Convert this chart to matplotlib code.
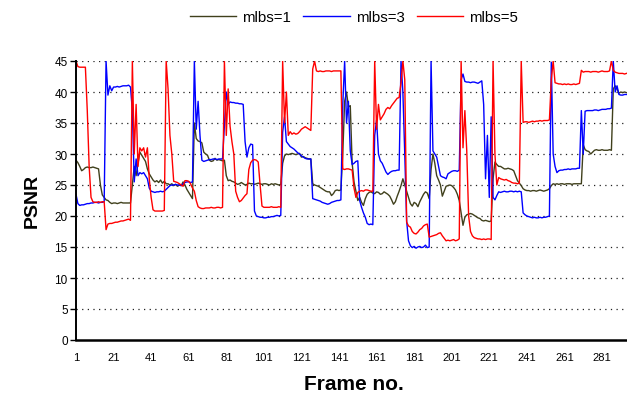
import matplotlib
matplotlib.use("Agg")
import matplotlib.pyplot as plt
import numpy as np

plt.rcParams['font.family'] = ['Liberation Sans', 'DejaVu Sans']

# PSNR per frame (frames 1..294)
mlbs1 = [29.0, 28.6, 28.0, 27.3, 27.5,
         27.8, 27.9, 27.8, 27.8, 27.9, 27.8, 27.7, 27.6,
         25.0, 23.4, 23.0, 22.6, 22.5,
         22.2, 22.0, 22.1, 22.1, 22.0, 22.1, 22.2, 22.1, 22.1, 22.1, 22.1, 22.1,
         25.0, 28.0, 26.5, 28.5, 30.3, 29.8, 29.3, 28.8, 27.6, 26.8, 26.3, 25.8, 25.5,
         25.7, 25.4, 25.8, 25.3, 25.6, 25.2,
         25.2, 25.0, 25.2, 24.9, 25.1, 24.8, 25.0, 24.9,
         25.5, 25.0, 24.3, 23.8, 23.3, 22.8,
         35.0, 32.5, 32.1, 32.0, 31.8, 30.3, 30.0, 29.8, 29.0, 28.8, 28.9, 29.3, 29.0, 29.1, 29.0, 28.9, 29.0,
         26.5, 25.7, 25.8, 25.6, 25.5,
         25.3, 25.1, 25.2, 25.4, 25.2, 25.0, 25.1, 25.3, 25.2, 25.2, 25.1, 25.2, 25.3,
         25.2, 25.1, 25.2, 25.2, 25.1, 25.0, 25.2, 25.1, 25.2, 25.1, 25.0, 25.1,
         28.5, 29.7,
         30.0, 29.9, 30.0, 30.1, 30.0, 29.9, 30.0, 30.1,
         29.5, 29.6, 29.4, 29.3, 29.2, 29.2,
         25.2, 25.0, 24.9, 24.8, 24.6,
         24.4, 24.2, 24.0, 23.9, 23.9,
         23.3, 23.6, 24.1, 24.2, 24.1, 24.2,
         30.0, 38.5, 40.0, 37.6, 37.8, 28.5, 25.5, 24.0, 22.5, 23.0, 22.2, 21.7, 22.8,
         23.5, 23.8, 23.9, 23.7, 23.6, 23.9, 23.8, 23.5, 23.6, 23.9, 23.7, 23.5, 23.2, 22.6, 21.9,
         22.3, 23.2, 24.0, 24.9, 26.0, 25.0,
         24.0, 23.0, 22.0, 21.6,
         22.2, 22.0, 21.5, 22.3, 22.9,
         23.5, 23.9, 23.7, 22.8,
         27.5, 30.0, 28.5, 26.5, 25.8, 25.0, 23.2, 24.0, 24.8,
         24.9, 25.0, 24.9, 24.6, 24.2,
         23.5, 22.5,
         20.5, 18.5, 19.8,
         20.2, 20.3, 20.4, 20.3, 20.1,
         19.9, 19.7, 19.6,
         19.3, 19.2, 19.3, 19.2, 19.1, 19.2,
         26.0, 28.7, 28.3, 28.0, 28.0, 27.8,
         27.6, 27.6, 27.7, 27.6, 27.5, 27.3,
         26.5, 25.7, 25.3, 24.9,
         24.4, 24.2, 24.1, 24.1, 24.0, 24.1, 24.1, 24.0, 24.1, 24.2, 24.1, 24.0, 24.1, 24.2, 24.4,
         24.9, 25.2, 25.1, 25.2, 25.1, 25.2, 25.2, 25.1, 25.2, 25.2, 25.2, 25.1, 25.2, 25.2, 25.2, 25.2, 25.2,
         31.5,
         30.7, 30.5, 30.4, 30.0, 30.3, 30.6, 30.7, 30.6, 30.6, 30.7, 30.6, 30.6, 30.6, 30.7, 30.6,
         40.5, 41.0, 40.5,
         39.8, 40.0, 39.9, 40.0, 39.9]

mlbs3 = [23.5, 22.0,
         21.7, 21.8, 21.8, 21.9, 22.0, 22.0, 22.1, 22.1, 22.2, 22.2, 22.1, 22.2, 22.2, 22.3,
         45.0, 39.5, 41.0, 40.2,
         40.8, 40.8, 40.9, 40.8, 40.9, 41.0, 41.0, 41.0, 41.1,
         40.8, 37.0, 25.5, 29.2, 26.5, 27.0, 26.8, 27.0, 26.5, 26.0, 24.5, 24.0,
         23.9, 23.8, 23.9, 23.9, 24.0, 23.9, 24.0,
         24.3, 24.6, 24.9,
         25.0, 25.0, 25.1, 25.0, 25.0, 24.9, 25.2, 25.4, 25.5, 25.5, 25.4, 25.5,
         45.0, 34.0, 38.5, 33.0, 29.0,
         28.8, 28.9, 29.0, 29.1, 29.1, 29.2, 29.2, 29.1, 29.2, 29.2, 29.2,
         34.5, 40.0, 38.0,
         38.4, 38.3, 38.3, 38.2, 38.2, 38.1, 38.1, 38.0,
         32.0, 29.5, 31.0, 31.6, 31.5,
         20.8,
         20.0, 19.9, 19.8, 19.8, 19.7, 19.7, 19.8, 19.8, 19.9, 19.9, 20.0, 20.1, 20.0, 20.1,
         33.5, 36.0, 32.0,
         31.6, 31.2, 31.0, 30.8, 30.5, 30.2, 30.0, 29.7, 29.5, 29.3, 29.2, 29.2, 29.2,
         22.8,
         22.7, 22.6, 22.5, 22.4, 22.2, 22.1, 22.0, 21.9, 22.0, 22.2, 22.3, 22.4, 22.5, 22.5, 22.6,
         38.0, 45.0, 35.0, 38.5, 30.5, 28.3,
         28.5, 28.8, 28.9,
         22.5, 21.4, 20.5, 19.8,
         18.8, 18.6, 18.7, 18.6,
         33.0, 35.5, 30.0,
         28.9, 28.5, 27.8, 27.1,
         26.7, 27.0, 27.2, 27.3, 27.3, 27.4, 27.4,
         45.0, 40.0, 30.0, 19.2, 16.0, 15.2,
         14.9, 15.1, 14.8, 15.0, 15.1, 14.9, 15.0, 15.3, 14.9, 15.0,
         45.0, 30.5, 30.0, 29.5, 28.0,
         26.5, 26.3, 26.2, 26.0,
         26.8,
         27.0, 27.2, 27.3, 27.3, 27.2, 27.4,
         42.0, 42.9,
         41.7, 41.6, 41.6, 41.5, 41.6, 41.6, 41.5, 41.4, 41.6, 41.8,
         38.0, 26.0, 33.0, 23.0, 36.0, 23.0, 22.6, 23.3,
         23.9, 23.8, 23.9, 24.0, 23.9, 23.9, 24.0, 24.0, 23.9, 24.0, 23.9, 24.0, 23.9,
         20.5,
         20.2, 20.0, 19.9, 19.8, 19.7, 19.8, 19.7, 19.7, 19.8, 19.7, 19.8, 19.8, 19.9, 20.0,
         44.8, 30.0, 28.0, 27.0,
         27.3, 27.4, 27.4, 27.5, 27.5, 27.6, 27.5, 27.6, 27.6, 27.6, 27.7, 27.7,
         37.0, 30.0,
         36.9, 37.0, 37.0, 37.0, 37.0, 37.1, 37.1, 37.0, 37.1, 37.2, 37.2, 37.2, 37.3, 37.3, 37.4,
         45.0, 40.0, 41.0,
         39.6, 39.5, 39.5, 39.6, 39.6]

mlbs5 = [45.0, 44.1, 44.0, 44.0, 44.0, 44.0,
         37.0, 28.0, 23.0,
         22.3, 22.2, 22.2, 22.3, 22.2, 22.3, 22.3,
         17.8,
         18.7, 18.8, 18.8, 18.9, 19.0, 19.0, 19.1, 19.2, 19.2, 19.3, 19.4, 19.5, 19.3,
         45.0, 30.0, 38.0, 28.0, 31.0, 30.5, 31.0, 29.5, 31.0, 26.0, 23.0,
         21.0, 20.8, 20.8, 20.8, 20.8, 20.8, 20.9,
         45.0, 40.5, 33.0, 30.0,
         25.6, 25.5, 25.4, 25.2, 25.0, 24.8,
         25.7, 25.7, 25.6, 25.2, 24.5,
         24.0, 22.5, 21.5,
         21.3, 21.2, 21.2, 21.3, 21.3, 21.3, 21.4, 21.3, 21.3, 21.4, 21.4, 21.3, 21.4,
         45.0, 33.0, 40.5, 34.5, 32.0, 30.0,
         24.0, 23.0,
         22.3, 22.5, 22.9, 23.3, 23.6,
         27.5, 28.6, 29.0, 29.1, 29.0, 28.7,
         25.0, 21.6,
         21.4, 21.4, 21.4, 21.4, 21.5, 21.4, 21.4, 21.4, 21.5, 21.4,
         45.0, 35.0, 40.0, 33.0,
         33.6, 33.2, 33.4, 33.2, 33.3, 33.6, 34.0, 34.2, 34.4, 34.2, 34.0, 33.8,
         43.7, 45.0,
         43.4, 43.3, 43.4, 43.3, 43.3, 43.4, 43.4, 43.4, 43.3, 43.4, 43.4, 43.4, 43.4, 43.4,
         27.6, 27.5, 27.6, 27.6, 27.5, 27.4,
         24.5, 23.0,
         23.8, 24.0, 24.1, 24.0, 24.2, 24.2, 24.1, 24.0, 24.0,
         45.0, 34.0, 38.0, 35.5,
         36.0, 36.5, 37.2, 37.5, 37.3, 37.8, 38.2, 38.6, 39.0, 39.1,
         41.5, 45.0, 42.0,
         19.0, 18.4, 18.2, 17.5, 17.2, 17.1,
         17.4, 17.8, 18.0, 18.4, 18.6, 18.7,
         16.6, 16.7, 16.8, 16.9, 17.0, 17.2, 17.3, 16.8, 16.4,
         16.0, 16.1, 16.0, 16.1, 16.2, 16.0, 16.1, 16.3,
         45.0, 31.0, 37.0, 30.5, 20.0, 17.5,
         16.8, 16.5, 16.4, 16.3, 16.3, 16.2, 16.3, 16.2, 16.3, 16.3, 16.2,
         45.0, 30.0, 25.0,
         26.2, 26.0, 25.9, 25.8, 25.9, 25.7, 25.6, 25.4, 25.3, 25.3, 25.2, 25.3,
         45.0,
         35.1, 35.2, 35.2, 35.1, 35.2, 35.3, 35.2, 35.3, 35.3, 35.4, 35.3, 35.4, 35.4, 35.4, 35.5,
         42.0, 45.0, 41.5,
         41.4, 41.3, 41.3, 41.2, 41.3, 41.2, 41.3, 41.2, 41.2, 41.3, 41.2, 41.3, 41.4,
         43.5,
         43.2, 43.3, 43.3, 43.3, 43.2, 43.3, 43.3, 43.3, 43.2, 43.3, 43.4, 43.3, 43.3, 43.3, 43.4,
         45.0,
         43.5, 43.2, 43.1, 43.0, 43.0, 43.0, 42.9, 43.0]

series = [("mlbs=1", mlbs1, "#40401c"),
          ("mlbs=3", mlbs3, "#0000ff"),
          ("mlbs=5", mlbs5, "#ff0000")]
xtick_frames = list(range(1, 282, 20))
ytick_vals = list(range(0, 46, 5))

fig = plt.figure(figsize=(6.27, 4.06), dpi=100)
ax = fig.add_axes([76 / 627, 65 / 406, 1 - 76 / 627, 279 / 406])

for name, vals, col in series:
    frames = np.arange(1, len(vals) + 1)
    ax.plot(frames, vals, color=col, lw=1.0, label=name)

ax.set_xlim(1, 294.3)
ax.set_ylim(0, 45)
ax.set_yticks(ytick_vals)
ax.set_xticks(xtick_frames)
ax.tick_params(axis='y', length=4, width=1, labelsize=8.5, pad=2)
ax.tick_params(axis='x', length=0, labelsize=8, pad=9)

for v in ytick_vals[1:]:
    ax.axhline(v, color='#222222', lw=0.9, ls=(0, (1, 3.5)), zorder=0)

for s in ['top', 'right']:
    ax.spines[s].set_visible(False)
ax.spines['left'].set_linewidth(1.4)
ax.spines['bottom'].set_linewidth(1.8)

fig.text(32 / 627, 1 - 201 / 406, 'PSNR', rotation=90, ha='center', va='center',
         fontsize=14, fontweight='bold')
fig.text(354 / 627, 1 - 385 / 406, 'Frame no.', ha='center', va='center',
         fontsize=15, fontweight='bold')

fig.legend(loc='center', bbox_to_anchor=(354 / 627, 1 - 18 / 406), ncol=3,
           frameon=False, fontsize=10.8, handlelength=3.1, handletextpad=0.4,
           columnspacing=0.8)

fig.savefig("out.png", dpi=100)
